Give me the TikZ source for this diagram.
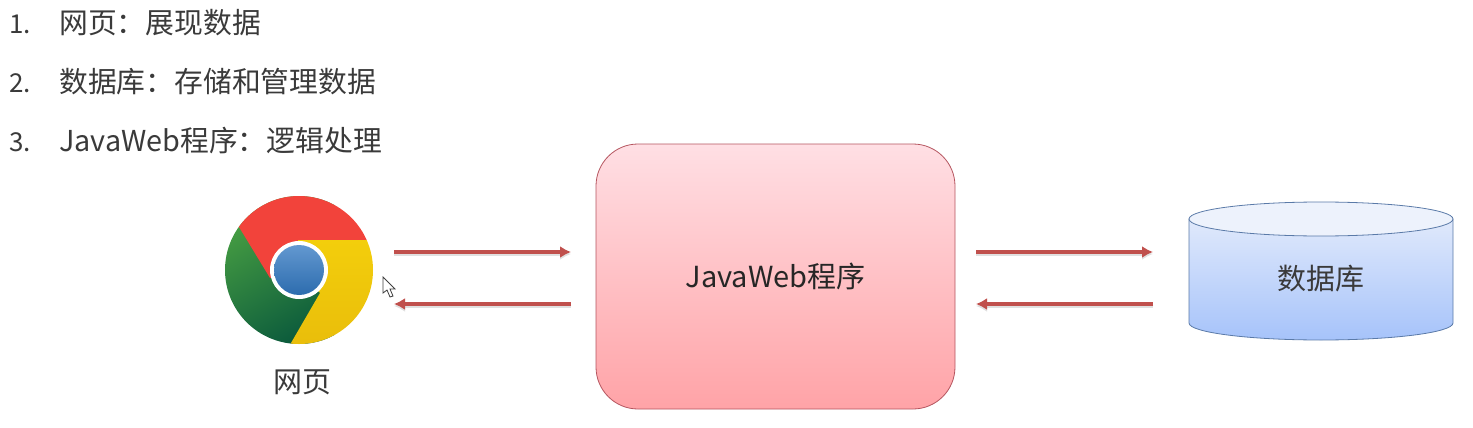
\documentclass[tikz,border=0pt]{standalone}
\usepackage{fontspec}
\setmainfont{Noto Sans CJK SC}
\usetikzlibrary{arrows.meta}
\definecolor{textgray}{HTML}{3A3A3A}
\definecolor{flowred}{HTML}{C0504D}
\definecolor{iconred}{HTML}{F2433B}
\definecolor{icongreen}{HTML}{4CA443}
\definecolor{icondark}{HTML}{0B5A3C}
\definecolor{iconyellow}{HTML}{F3CE0C}
\definecolor{iconyellowb}{HTML}{E6B80A}
\definecolor{balltop}{HTML}{6398D0}
\definecolor{ballbot}{HTML}{2C6CAE}
\definecolor{apptop}{HTML}{FFDFE4}
\definecolor{appbot}{HTML}{FFA3A7}
\definecolor{appline}{HTML}{B5555F}
\definecolor{dbtop}{HTML}{E0E9FB}
\definecolor{dbbot}{HTML}{A6C3FA}
\definecolor{dbcap}{HTML}{EDF2FC}
\definecolor{dbline}{HTML}{5A7AA8}
\tikzset{>=latex}
\tikzstyle{item}=[anchor=west,inner sep=0,text=textgray,font=\fontsize{28.8}{31}\selectfont]
\tikzstyle{number}=[anchor=west,inner sep=0,text=textgray,font=\fontsize{26}{28}\selectfont]
\tikzstyle{label}=[inner sep=0,text=textgray,font=\fontsize{29}{31}\selectfont]
\tikzstyle{flow}=[-{Latex[length=11,width=12]},flowred,line width=4,
                  preaction={draw=black!12,line width=4,transform canvas={yshift=-2pt}}]
\begin{document}
\begin{tikzpicture}[x=1pt,y=-1pt]
        \useasboundingbox (0,0) rectangle (1473,428);

        \coordinate (C) at (299,270); % centre of the browser icon

        % LIST
        \node[number] (n1) at (9,24)  {1.};
        \node[number] (n2) at (9,83)  {2.};
        \node[number] (n3) at (9,142) {3.};
        \node[item] (t1) at (59,23)  {网页：展现数据};
        \node[item] (t2) at (59,82)  {数据库：存储和管理数据};
        \node[item] (t3) at (59,141) {JavaWeb程序：逻辑处理};

        % BROWSER ICON
        \begin{scope}
          \clip (C) circle (74);
          \shade[top color=icongreen,middle color=icongreen,bottom color=icondark,shading angle=30]
            (215,190) rectangle (335,350);
          \fill[iconred] (270,278) -- (239,227) -- (200,150) -- (400,150)
            -- (400,240) -- (298,240) -- (C) -- cycle;
          \shade[top color=iconyellow,bottom color=iconyellowb]
            (298,240) -- (400,240) -- (400,380) -- (280,380) -- (291,343) -- (320,293) -- (C) -- cycle;
        \end{scope}
        \fill[white] (C) circle (29);
        \shade[top color=balltop,bottom color=ballbot] (C) circle (25);
        \node[label] (browser) at (302,382) {网页};

        % JAVAWEB BOX
        \node[draw=appline,line width=0.8,rounded corners=42,
              top color=apptop,bottom color=appbot,
              minimum width=359,minimum height=265,inner sep=0,
              label,text=black!85] (app) at (775.5,276.5) {JavaWeb程序};

        % DATABASE
        \shade[top color=dbtop,bottom color=dbbot,draw=dbline,line width=0.8]
          (1189,219) -- (1189,323) arc (180:0:132 and 17) -- (1453,219) -- cycle;
        \draw[fill=dbcap,draw=dbline,line width=0.8] (1321,219) ellipse (132 and 17);
        \node[label] (db) at (1321,279) {数据库};

        % ARROWS
        \coordinate (a1) at (394,252);
        \coordinate (a2) at (571,252);
        \coordinate (a3) at (571,304);
        \coordinate (a4) at (394,304);
        \coordinate (b1) at (976,252);
        \coordinate (b2) at (1153,252);
        \coordinate (b3) at (1153,304);
        \coordinate (b4) at (976,304);
        \draw[flow] (a1) -- (a2);
        \draw[flow] (a3) -- (a4);
        \draw[flow] (b1) -- (b2);
        \draw[flow] (b3) -- (b4);

        % CURSOR
        \draw[fill=white,draw=black!75,line width=0.8] (383,277) -- (383,293) -- (387,290)
          -- (390,297) -- (393,296) -- (390,289) -- (395,289) -- cycle;

\end{tikzpicture}
\end{document}
